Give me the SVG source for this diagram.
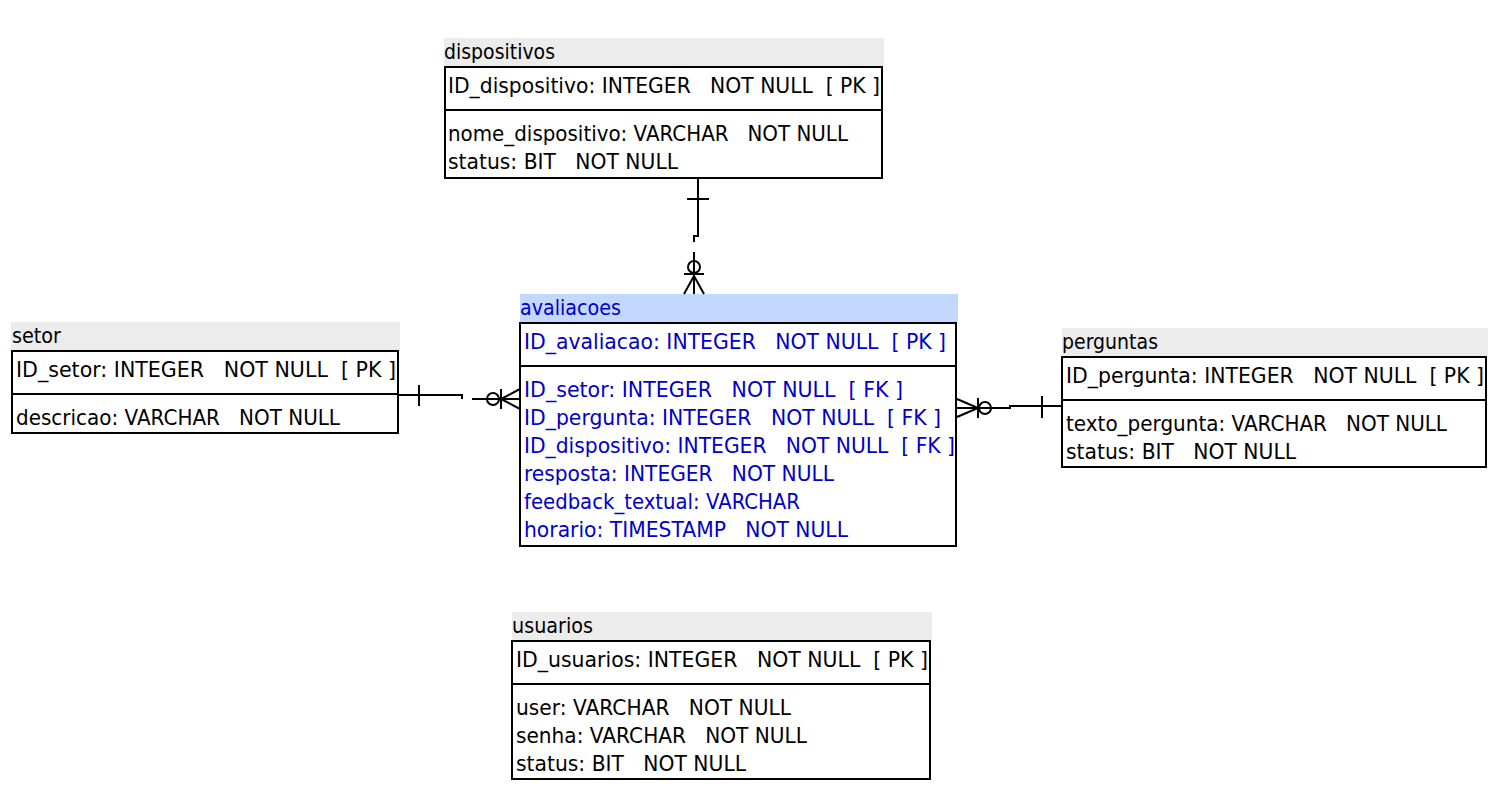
<svg xmlns="http://www.w3.org/2000/svg" width="1512" height="788" viewBox="0 0 1512 788">
<style>
text{font-family:"DejaVu Sans",Verdana,sans-serif;font-size:21px;white-space:pre;fill:#000}
.b text{fill:#0000c8}
.hd{fill:#ececec}
.hdb{fill:#c2d8ff}
.box{fill:#fff;stroke:#000;stroke-width:2}
.div{stroke:#000;stroke-width:2}
.c{fill:none;stroke:#000;stroke-width:2}
</style>
<rect width="1512" height="788" fill="#fff"/>

<g id="dispositivos">
<rect class="hd" x="444" y="38" width="440" height="28"/>
<text x="444" y="59" textLength="111" lengthAdjust="spacingAndGlyphs">dispositivos</text>
<rect class="box" x="445" y="67" width="437" height="111"/>
<line class="div" x1="445" y1="110" x2="882" y2="110"/>
<text x="448" y="93" textLength="432" lengthAdjust="spacingAndGlyphs">ID_dispositivo: INTEGER   NOT NULL  [ PK ]</text>
<text x="448" y="141" textLength="400" lengthAdjust="spacingAndGlyphs">nome_dispositivo: VARCHAR   NOT NULL</text>
<text x="448" y="169" textLength="230" lengthAdjust="spacingAndGlyphs">status: BIT   NOT NULL</text>
</g>

<g id="setor">
<rect class="hd" x="11" y="322" width="389" height="28"/>
<text x="12" y="343" textLength="49" lengthAdjust="spacingAndGlyphs">setor</text>
<rect class="box" x="12" y="351" width="386" height="82"/>
<line class="div" x1="12" y1="394" x2="398" y2="394"/>
<text x="16" y="377" textLength="380" lengthAdjust="spacingAndGlyphs">ID_setor: INTEGER   NOT NULL  [ PK ]</text>
<text x="16" y="425" textLength="324" lengthAdjust="spacingAndGlyphs">descricao: VARCHAR   NOT NULL</text>
</g>

<g id="avaliacoes" class="b">
<rect class="hdb" x="520" y="294" width="438" height="28"/>
<text x="520" y="315" textLength="101" lengthAdjust="spacingAndGlyphs">avaliacoes</text>
<rect class="box" x="520" y="323" width="436" height="223"/>
<line class="div" x1="520" y1="366" x2="956" y2="366"/>
<text x="524" y="349" textLength="422" lengthAdjust="spacingAndGlyphs">ID_avaliacao: INTEGER   NOT NULL  [ PK ]</text>
<text x="524" y="397" textLength="379" lengthAdjust="spacingAndGlyphs">ID_setor: INTEGER   NOT NULL  [ FK ]</text>
<text x="524" y="425" textLength="417" lengthAdjust="spacingAndGlyphs">ID_pergunta: INTEGER   NOT NULL  [ FK ]</text>
<text x="524" y="453" textLength="431" lengthAdjust="spacingAndGlyphs">ID_dispositivo: INTEGER   NOT NULL  [ FK ]</text>
<text x="524" y="481" textLength="310" lengthAdjust="spacingAndGlyphs">resposta: INTEGER   NOT NULL</text>
<text x="524" y="509" textLength="276" lengthAdjust="spacingAndGlyphs">feedback_textual: VARCHAR</text>
<text x="524" y="537" textLength="324" lengthAdjust="spacingAndGlyphs">horario: TIMESTAMP   NOT NULL</text>
</g>

<g id="perguntas">
<rect class="hd" x="1062" y="328" width="426" height="28"/>
<text x="1062" y="349" textLength="96" lengthAdjust="spacingAndGlyphs">perguntas</text>
<rect class="box" x="1062" y="357" width="424" height="110"/>
<line class="div" x1="1062" y1="400" x2="1486" y2="400"/>
<text x="1066" y="383" textLength="418" lengthAdjust="spacingAndGlyphs">ID_pergunta: INTEGER   NOT NULL  [ PK ]</text>
<text x="1066" y="431" textLength="381" lengthAdjust="spacingAndGlyphs">texto_pergunta: VARCHAR   NOT NULL</text>
<text x="1066" y="459" textLength="230" lengthAdjust="spacingAndGlyphs">status: BIT   NOT NULL</text>
</g>

<g id="usuarios">
<rect class="hd" x="512" y="612" width="420" height="28"/>
<text x="512" y="633" textLength="81" lengthAdjust="spacingAndGlyphs">usuarios</text>
<rect class="box" x="512" y="641" width="418" height="138"/>
<line class="div" x1="512" y1="684" x2="930" y2="684"/>
<text x="516" y="667" textLength="412" lengthAdjust="spacingAndGlyphs">ID_usuarios: INTEGER   NOT NULL  [ PK ]</text>
<text x="516" y="715" textLength="275" lengthAdjust="spacingAndGlyphs">user: VARCHAR   NOT NULL</text>
<text x="516" y="743" textLength="291" lengthAdjust="spacingAndGlyphs">senha: VARCHAR   NOT NULL</text>
<text x="516" y="771" textLength="230" lengthAdjust="spacingAndGlyphs">status: BIT   NOT NULL</text>
</g>

<g id="connectors">
<!-- dispositivos to avaliacoes -->
<path class="c" d="M698 178 V236 H694 V242 M694 252 V294"/>
<line class="c" x1="687" y1="199" x2="709" y2="199"/>
<circle class="c" cx="694" cy="267" r="6"/>
<line class="c" x1="684" y1="274" x2="704" y2="274"/>
<path class="c" d="M694 276 L684 294 M694 276 L694 294 M694 276 L704 294"/>
<!-- setor to avaliacoes -->
<path class="c" d="M399 395 H462 V399 M472 399 H520"/>
<line class="c" x1="419" y1="385" x2="419" y2="406"/>
<circle class="c" cx="493" cy="399" r="6"/>
<line class="c" x1="501" y1="389" x2="501" y2="409"/>
<path class="c" d="M501 399 L520 389 M501 399 L520 409"/>
<!-- avaliacoes to perguntas -->
<path class="c" d="M957 408 H1010 V406 H1062"/>
<path class="c" d="M957 399 L978 408 L957 417"/>
<line class="c" x1="978" y1="398" x2="978" y2="418"/>
<circle class="c" cx="985" cy="408" r="6"/>
<line class="c" x1="1042" y1="396" x2="1042" y2="418"/>
</g>
</svg>
